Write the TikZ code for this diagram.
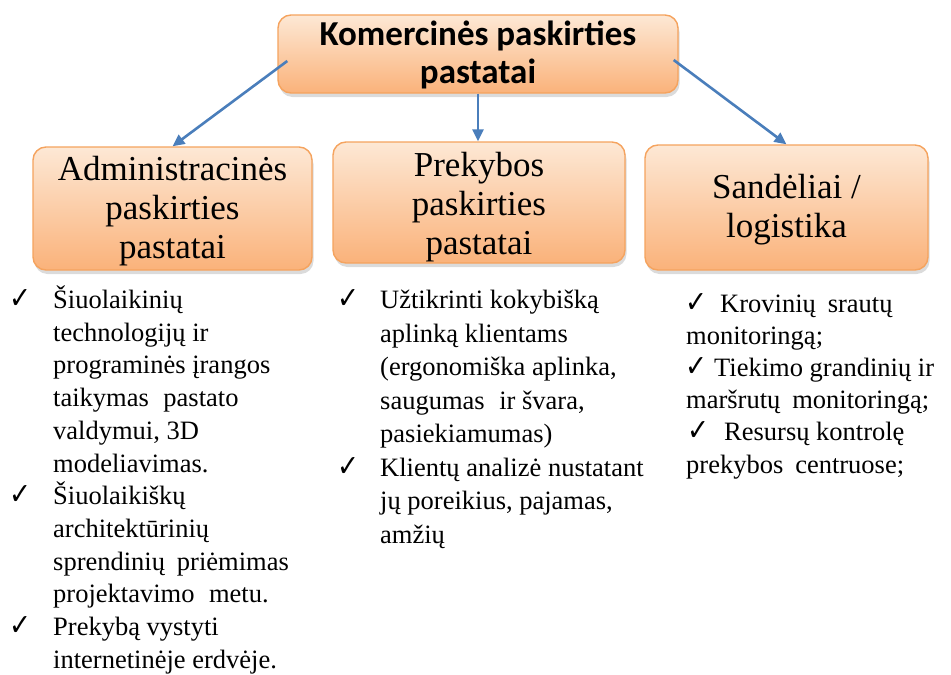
\documentclass[tikz,border=0pt]{standalone}
\usepackage{fontspec}
\setmainfont{Liberation Serif}
\newfontfamily\headfont{Carlito}
\newfontfamily\symfont{DejaVu Sans}
\usetikzlibrary{arrows.meta,shadows}

\definecolor{boxtop}{HTML}{FDE8D5}
\definecolor{boxbot}{HTML}{FAB27A}
\definecolor{boxedge}{HTML}{F5A35E}
\definecolor{arrowblue}{HTML}{4A7EBB}

% check mark used in the bullet lists
\newcommand{\chk}{\resizebox{22pt}{19pt}{\symfont ✓}}
% a check hanging to the left of a line start
\newcommand{\hangchk}[1]{\leavevmode\llap{\chk\hspace{#1}}}

\begin{document}
\begin{tikzpicture}[x=1pt,y=-1pt,
  catbox/.style={draw=boxedge, line width=1.4pt, rounded corners=13pt,
    top color=boxtop, bottom color=boxbot,
    drop shadow={shadow xshift=1.5pt, shadow yshift=-4pt, opacity=0.2, fill=black!70},
    inner sep=0pt},
  label/.style={anchor=base, inner sep=0pt},
  link/.style={draw=arrowblue, line width=2.6pt, -{Triangle[length=12pt,width=11pt]}},
  list/.style={anchor=base west, inner sep=0pt}]
\useasboundingbox (0,0) rectangle (951,675);

% category boxes
\node[catbox, minimum width=400pt, minimum height=78pt] (top) at (478,54) {};
\node[catbox, minimum width=279pt, minimum height=123pt] (adm) at (172.5,208.5) {};
\node[catbox, minimum width=292pt, minimum height=121pt] (prek) at (479,202.5) {};
\node[catbox, minimum width=283pt, minimum height=125pt] (sand) at (786.5,207.5) {};

% box captions (anchored at the baseline of their first line)
\node[label] (toplabel) at (478,45) {\parbox[t]{400pt}{\centering
  \headfont\bfseries\fontsize{35}{38.5}\selectfont Komercinės paskirties\\pastatai}};
\node[label] (admlabel) at (172.5,180) {\parbox[t]{279pt}{\centering
  \fontsize{35}{39}\selectfont Administracinės\\paskirties\\pastatai}};
\node[label] (preklabel) at (479,176) {\parbox[t]{292pt}{\centering
  \fontsize{35}{39}\selectfont Prekybos\\paskirties\\pastatai}};
\node[label] (sandlabel) at (786.5,198) {\parbox[t]{283pt}{\centering
  \fontsize{35}{39}\selectfont Sandėliai /\\logistika}};

% connectors
\draw[link] ([shift={(10,7)}]top.west) -- (adm.north);
\draw[link] (top.south) -- (top.south |- prek.north);
\draw[link] ([shift={(-5,6)}]top.east) -- (sand.north);

% bullet lists
\node[list] (admlist) at (53,308.5) {\parbox[t]{280pt}{\fontsize{26.5}{32.7}\selectfont\raggedright
  \hangchk{22pt}Šiuolaikinių\\
  technologijų ir\\
  programinės įrangos\\
  taikymas\hspace{0.3em} pastato\\
  valdymui, 3D\\
  modeliavimas.\\
  \hangchk{22pt}Šiuolaikiškų\\
  architektūrinių\\
  sprendinių\hspace{0.2em} priėmimas\\
  projektavimo\hspace{0.3em} metu.\\
  \hangchk{22pt}Prekybą vystyti\\
  internetinėje erdvėje.}};

\node[list] (preklist) at (380,308.5) {\parbox[t]{280pt}{\fontsize{26.5}{33.5}\selectfont\raggedright
  \hangchk{21pt}Užtikrinti kokybišką\\
  aplinką klientams\\
  (ergonomiška aplinka,\\
  saugumas\hspace{0.3em} ir švara,\\
  pasiekiamumas)\\
  \hangchk{21pt}Klientų analizė nustatant\\
  jų poreikius, pajamas,\\
  amžių}};

\node[list] (sandlist) at (686,312) {\parbox[t]{270pt}{\fontsize{26.5}{32.2}\selectfont\raggedright
  \hspace*{-1pt}\chk\hspace*{13pt}Krovinių\hspace{0.2em} srautų\\
  monitoringą;\\
  \hspace*{-1pt}\chk\hspace*{7pt}Tiekimo grandinių ir\\
  maršrutų\hspace{0.2em} monitoringą;\\
  \hspace*{1pt}\chk\hspace*{15pt}Resursų kontrolę\\
  prekybos\hspace{0.2em} centruose;}};
\end{tikzpicture}
\end{document}
